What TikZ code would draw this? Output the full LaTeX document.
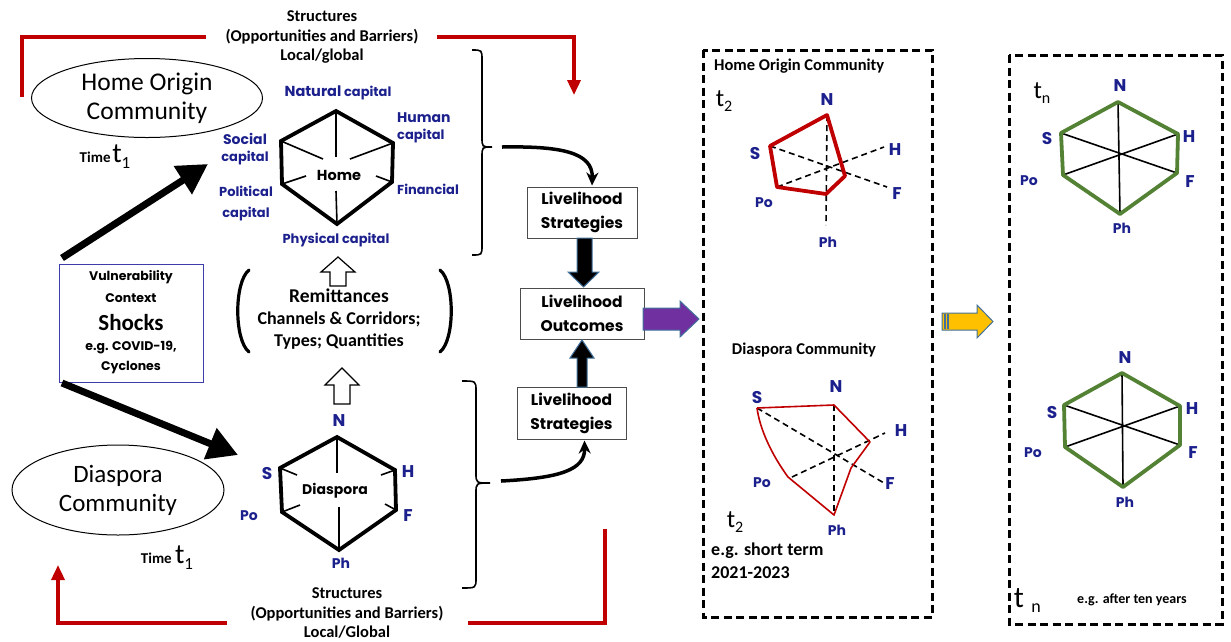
\documentclass[tikz,border=0pt]{standalone}
\usepackage{fontspec}
\setmainfont{Carlito}
\newfontfamily\pop{Poppins}
\usetikzlibrary{shapes.geometric,arrows.meta,calc}
\definecolor{navy}{RGB}{28,32,140}
\definecolor{myred}{RGB}{192,0,0}
\definecolor{mygreen}{RGB}{84,130,53}
\definecolor{steel}{RGB}{65,113,156}
\definecolor{purp}{RGB}{112,48,160}
\definecolor{gold}{RGB}{255,192,0}
\definecolor{vboxc}{RGB}{60,60,170}
\newcommand\fs[2]{\fontsize{#1}{#2}\selectfont}
\newcommand\tsub[3]{{\fs{#1}{#1}t\raisebox{-0.22em}{\fs{#2}{#2}#3}}}
\tikzset{
  lab/.style={font=\pop\bfseries\fs{13}{17}, text=navy, inner sep=0pt, align=center},
  axl/.style={font=\pop\bfseries\fs{17}{19}, text=navy, inner sep=0pt},
  axs/.style={font=\pop\bfseries\fs{14}{16}, text=navy, inner sep=0pt},
  struct/.style={font=\bfseries\fs{16.5}{19.5}, align=center, inner sep=0pt},
  lbox/.style={draw=black!70, line width=1pt, font=\pop\bfseries\fs{15.5}{24}, align=center, inner sep=0pt},
  redl/.style={draw=myred, line width=3.5pt},
  hexl/.style={line width=3.8pt, line join=miter},
  spoke/.style={line width=1.6pt},
  radax/.style={line width=1.6pt, dash pattern=on 6pt off 4pt},
  panel/.style={line width=3pt, dash pattern=on 8pt off 4.5pt},
  bigarrow/.style={line width=7pt, -{Triangle[length=30pt,width=32pt]}},
  curvarrow/.style={line width=3.5pt, -{Stealth[length=13pt,width=12pt]}},
  brace/.style={line width=1.6pt},
  txt/.style={inner sep=0pt},
}
\begin{document}
\begin{tikzpicture}[x=1pt,y=-1pt]
\useasboundingbox (0,0) rectangle (1231,641);

% ---------- top structures ----------
\node[struct] (stop) at (322,37) {Structures\\(Opportunities and Barriers)\\Local/global};
\coordinate (rt1) at (22,97); \coordinate (rt2) at (22,37); \coordinate (rt3) at (206,37);
\draw[redl] (rt1) -- (rt2) -- (rt3);
\coordinate (rt4) at (437,37); \coordinate (rt5) at (574,37); \coordinate (rt6) at (574,95);
\draw[redl, -{Triangle[length=15pt,width=13pt]}] (rt4) -- (rt5) -- (rt6);

% ---------- home origin ellipse ----------
\node[draw, ellipse, line width=1pt, minimum width=231pt, minimum height=79pt, inner sep=0pt,
      align=center, font=\fs{25.5}{29}] (home) at (147,98) {Home Origin\\Community};
\node[txt] (time1) at (105,157) {{\bfseries\fs{15}{18}Time}\,\tsub{28}{17}{1}};

% ---------- home hexagon ----------
\coordinate (hN) at (336,111); \coordinate (hUR) at (393,143); \coordinate (hLR) at (392,182);
\coordinate (hB) at (337,224); \coordinate (hLL) at (282,184); \coordinate (hUL) at (281,141);
\draw[spoke] (hN) -- (336,157);
\draw[spoke] (hUL) -- (323,159);
\draw[spoke] (hUR) -- (350,159);
\draw[spoke] (hLL) -- (306,176);
\draw[spoke] (hLR) -- (376,176);
\draw[spoke] (hB) -- (336,191);
\draw[hexl] (hN) -- (hUR) -- (hLR) -- (hB) -- (hLL) -- (hUL) -- cycle;
\node[font=\pop\bfseries\fs{14.5}{16}, inner sep=0pt] (homeL) at (339,175) {Home};

\node[lab] (natural) at (338,93) {{\fs{14.5}{17}Natural} capital};
\node[lab, anchor=west, align=left] (human) at (397,128) {{\fs{14}{17}Human}\\capital};
\node[lab] (social) at (245,149) {{\fs{14}{17}Social}\\capital};
\node[lab, font=\pop\bfseries\fs{13}{21}] (political) at (246,204) {Political\\capital};
\node[lab, anchor=west] (financial) at (397,189) {Financial};
\node[lab] (physical) at (336,240) {Physical capital};

% ---------- vulnerability ----------
\node[draw=vboxc, line width=1pt, minimum width=144pt, minimum height=118pt, inner sep=0pt] (vul) at (131,323) {};
\node[txt, font=\pop\bfseries\fs{12.5}{14}] (vul1) at (131,277) {Vulnerability};
\node[txt, font=\pop\bfseries\fs{12.5}{14}] (vul2) at (131,298) {Context};
\node[txt, font=\bfseries\fs{23}{26}] (vul3) at (131,323) {Shocks};
\node[txt, font=\pop\bfseries\fs{12.5}{14}] (vul4) at (131,348) {e.g. COVID-19,};
\node[txt, font=\pop\bfseries\fs{12.5}{14}] (vul5) at (131,368) {Cyclones};

\coordinate (a1s) at (62,258); \coordinate (a1e) at (208,164);
\draw[bigarrow] (a1s) -- (a1e);
\coordinate (a2s) at (62,383); \coordinate (a2e) at (238,455);
\draw[bigarrow] (a2s) -- (a2e);

% ---------- remittances ----------
\node[txt, align=center, font=\bfseries\fs{18}{22}] (remit) at (339,319)
  {{\fs{19.5}{22}Remittances}\\Channels \& Corridors;\\Types; Quantities};
\draw[line width=3.2pt, line cap=round] (249,270) .. controls (234,282) and (234,340) .. (249,352);
\draw[line width=3.2pt, line cap=round] (440,270) .. controls (455,282) and (455,340) .. (440,352);

\draw[fill=white, line width=1.2pt, line join=miter] (330,286) -- (330,272) -- (321,272) -- (338,257) -- (355,272) -- (346,272) -- (346,286) -- cycle;
\draw[fill=white, line width=1.2pt, line join=miter] (334,404) -- (334,385) -- (325,385) -- (342,368) -- (359,385) -- (350,385) -- (350,404) -- cycle;

% ---------- diaspora hexagon ----------
\coordinate (dN) at (337,437); \coordinate (dUR) at (395,470); \coordinate (dLR) at (396,510);
\coordinate (dB) at (339,550); \coordinate (dLL) at (282,512); \coordinate (dUL) at (280,468);
\draw[spoke] (dN) -- (337,473);
\draw[spoke] (dB) -- (339,507);
\draw[spoke] (dUL) -- (297,475);
\draw[spoke] (dUR) -- (381,475);
\draw[spoke] (dLL) -- (300,505);
\draw[spoke] (dLR) -- (385,504);
\draw[hexl] (dN) -- (dUR) -- (dLR) -- (dB) -- (dLL) -- (dUL) -- cycle;
\node[font=\pop\bfseries\fs{14}{16}, inner sep=0pt] (diasL) at (335,491) {Diaspora};
\node[axl] (dNl) at (339,421) {N};
\node[axl] (dSl) at (267,473) {S};
\node[axl] (dHl) at (408,472) {H};
\node[axs] (dPol) at (249,516) {Po};
\node[axl] (dFl) at (408,516) {F};
\node[axs] (dPhl) at (341,563) {Ph};

% ---------- diaspora ellipse ----------
\node[draw, ellipse, line width=1pt, minimum width=212pt, minimum height=90pt, inner sep=0pt,
      align=center, font=\fs{25}{29}] (dias) at (118,490) {Diaspora\\Community};
\node[txt] (time2) at (167,558) {{\bfseries\fs{15}{18}Time}\,\,\tsub{28}{17}{1}};

% ---------- bottom structures ----------
\node[struct] (sbot) at (347,613) {Structures\\(Opportunities and Barriers)\\Local/Global};
\coordinate (rb1) at (227,623); \coordinate (rb2) at (58,623); \coordinate (rb3) at (58,565);
\draw[redl, -{Triangle[length=15pt,width=13pt]}] (rb1) -- (rb2) -- (rb3);
\coordinate (rb4) at (468,623); \coordinate (rb5) at (605,623); \coordinate (rb6) at (605,529);
\draw[redl] (rb4) -- (rb5) -- (rb6);

% ---------- braces ----------
\draw[brace] (472,50) .. controls (482,50) .. (482,60) -- (482,137) .. controls (482,147) .. (492,147)
  .. controls (482,147) .. (482,157) -- (482,245) .. controls (482,255) .. (472,255);
\draw[brace] (462,381) .. controls (476,381) .. (476,391) -- (476,473) .. controls (476,483) .. (490,483)
  .. controls (476,483) .. (476,493) -- (476,578) .. controls (476,588) .. (462,588);

% ---------- livelihood boxes ----------
\node[lbox, minimum width=110pt, minimum height=51pt] (box1) at (582,212.5) {Livelihood\\Strategies};
\node[lbox, minimum width=124pt, minimum height=51pt] (box2) at (582,313.5) {Livelihood\\Outcomes};
\node[lbox, minimum width=109pt, minimum height=52pt] (box3) at (571.5,413) {Livelihood\\Strategies};

\coordinate (c1s) at (502,147);
\draw[curvarrow] (c1s) .. controls (560,146) and (593,152) .. ($(box1.north)+(10,-1)$);
\coordinate (c2s) at (501,481);
\draw[curvarrow] (c2s) .. controls (560,478) and (585,470) .. ($(box3.south)+(13,1)$);

\draw[fill=black, draw=steel, line width=1pt] (577,238) -- (592,238) -- (592,272) -- (599,272) -- (583.5,287) -- (568,272) -- (577,272) -- cycle;
\draw[fill=black, draw=steel, line width=1pt] (577,387) -- (587,387) -- (587,358) -- (594,358) -- (582,340) -- (570,358) -- (577,358) -- cycle;
\draw[fill=purp, draw=steel, line width=1pt] (643,308) -- (680,308) -- (680,301) -- (699,319) -- (680,337) -- (680,330) -- (643,330) -- cycle;

% ---------- panel 1 ----------
\draw[panel] (703,50) rectangle (932,617);
\node[txt, anchor=west, font=\bfseries\fs{16.5}{18}] (p1t) at (714,66) {Home Origin Community};
\node[txt] (p1t2) at (724,101) {\tsub{25}{16}{2}};

\coordinate (r1N) at (827,115); \coordinate (r1S) at (770,146); \coordinate (r1Po) at (777,187);
\coordinate (r1Ph) at (826,194); \coordinate (r1F) at (845,176);
\coordinate (r1Fe) at (887,187); \coordinate (r1He) at (884,147); \coordinate (r1Phe) at (826,225);
\draw[radax] (r1N) -- (r1Phe);
\draw[radax] (r1S) -- (r1Fe);
\draw[radax] (r1Po) -- (r1He);
\draw[draw=myred, line width=3.8pt, line join=round] (r1N) -- (r1S) -- (r1Po) -- (r1Ph) -- (r1F) -- cycle;
\node[axl] (r1Nl) at (827,100) {N};
\node[axl] (r1Sl) at (755,153) {S};
\node[axl] (r1Hl) at (895,150) {H};
\node[axl] (r1Fl) at (897,194) {F};
\node[axs] (r1Pol) at (764,203) {Po};
\node[axs] (r1Phl) at (828,242) {Ph};

\node[txt, font=\bfseries\fs{16.5}{18}] (p1d) at (804,350) {Diaspora Community};
\coordinate (r2S) at (757,408); \coordinate (r2N) at (834,405); \coordinate (r2H) at (870,442);
\coordinate (r2k) at (851,468); \coordinate (r2Ph) at (834,515); \coordinate (r2Po) at (788,477);
\coordinate (r2Fe) at (884,483); \coordinate (r2He) at (885,433); \coordinate (r2Poe) at (792,477);
\draw[radax] (r2N) -- (r2Ph);
\draw[radax] (r2S) -- (r2Fe);
\draw[radax] (r2Poe) -- (r2He);
\draw[draw=myred, line width=1.6pt, line join=round] (r2S) -- (r2N) -- (r2H) -- (r2k) -- (r2Ph) -- (r2Po)
  .. controls (772,455) and (760,430) .. (r2S);
\node[axl] (r2Nl) at (836,387) {N};
\node[axl] (r2Sl) at (757,397) {S};
\node[axl] (r2Hl) at (901,431) {H};
\node[axl] (r2Fl) at (890,484) {F};
\node[axs] (r2Pol) at (762,483) {Po};
\node[axs] (r2Phl) at (837,530) {Ph};
\node[txt] (p1t2b) at (735,522) {\tsub{25}{16}{2}};
\node[txt, anchor=west, align=left, font=\bfseries\fs{18}{23}] (p1eg) at (711,561) {e.g. short term\\2021-2023};

% ---------- yellow arrow ----------
\draw[fill=gold, draw=steel, line width=1pt] (942,313) -- (977,313) -- (977,305) -- (993,321.5) -- (977,338) -- (977,330) -- (942,330) -- cycle;
\draw[steel, line width=1.2pt] (945,314) -- (945,329);
\draw[steel, line width=1.2pt] (948,314) -- (948,329);

% ---------- panel 2 ----------
\draw[panel] (1009,55) rectangle (1222,624);
\node[txt] (p2tn) at (1042,93) {\tsub{25}{16}{n}};

\coordinate (gN) at (1118,102); \coordinate (gH) at (1178,134); \coordinate (gF) at (1177,173);
\coordinate (gPh) at (1120,214); \coordinate (gPo) at (1063,175); \coordinate (gS) at (1061,133);
\draw[spoke] (gN) -- (gPh);
\draw[spoke] (gS) -- (gF);
\draw[spoke] (gPo) -- (gH);
\draw[draw=mygreen, line width=3.8pt, line join=round] (gN) -- (gH) -- (gF) -- (gPh) -- (gPo) -- (gS) -- cycle;
\node[axl] (gNl) at (1120,86) {N};
\node[axl] (gSl) at (1047,139) {S};
\node[axl] (gHl) at (1189,137) {H};
\node[axl] (gFl) at (1190,182) {F};
\node[axs] (gPol) at (1029,181) {Po};
\node[axs] (gPhl) at (1122,228) {Ph};

\coordinate (kN) at (1122,373); \coordinate (kH) at (1180,406); \coordinate (kF) at (1180,445);
\coordinate (kPh) at (1123,487); \coordinate (kPo) at (1065,447); \coordinate (kS) at (1064,405);
\draw[spoke] (kN) -- (kPh);
\draw[spoke] (kS) -- (kF);
\draw[spoke] (kPo) -- (kH);
\draw[draw=mygreen, line width=3.8pt, line join=round] (kN) -- (kH) -- (kF) -- (kPh) -- (kPo) -- (kS) -- cycle;
\node[axl] (kNl) at (1125,358) {N};
\node[axl] (kSl) at (1052,412) {S};
\node[axl] (kHl) at (1192,409) {H};
\node[axl] (kFl) at (1193,453) {F};
\node[axs] (kPol) at (1033,453) {Po};
\node[axs] (kPhl) at (1125,502) {Ph};

\node[txt, font=\fs{30}{30}] (p2t) at (1019,598) {t};
\node[txt, font=\fs{18}{18}] (p2n) at (1036,608) {n};
\node[txt, anchor=west, font=\bfseries\fs{14}{16}] (p2eg) at (1077,600) {e.g. after ten years};
\end{tikzpicture}
\end{document}
